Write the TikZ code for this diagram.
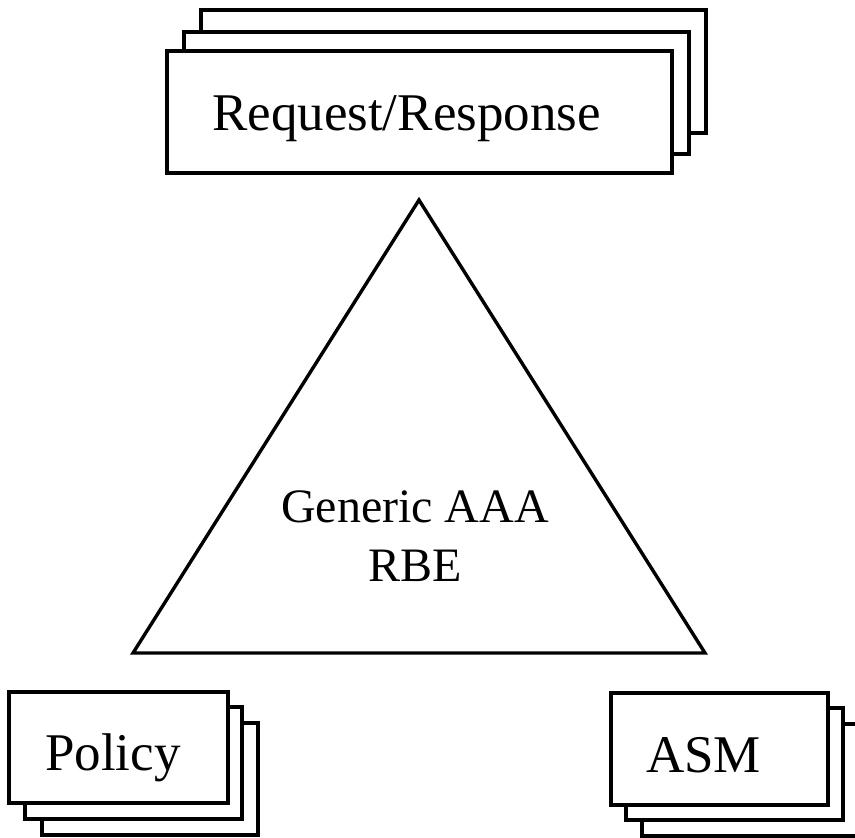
\documentclass[tikz,border=0pt]{standalone}
\usepackage{fontspec}
\setmainfont{Liberation Serif}
\begin{document}
\begin{tikzpicture}[x=1pt,y=-1pt,
  sheet/.style={draw=black,fill=white,line width=3.2pt},
  bigtxt/.style={font=\fontsize{53}{60}\selectfont,inner sep=0pt,anchor=base},
  midtxt/.style={font=\fontsize{48}{56}\selectfont,inner sep=0pt,anchor=base}]
\useasboundingbox (0,0) rectangle (855,838);
\clip (0,0) rectangle (855,838);
% Request/Response stack
\draw[sheet] (201,10) rectangle (706,133);
\draw[sheet] (184,32) rectangle (689,154);
\draw[sheet] (167,51) rectangle (672,173);
\node[bigtxt] (req) at (406.5,130) {Request/Response};
% triangle
\coordinate (apex) at (419,200);
\coordinate (bl) at (133,653);
\coordinate (br) at (705,653);
\draw[line width=3.4pt,line join=miter] (apex) -- (bl) -- (br) -- cycle;
\node[midtxt] (gen) at (415,522) {Generic AAA};
\node[midtxt] (rbe) at (415.5,581) {RBE};
% Policy stack
\draw[sheet] (42,723) rectangle (258,835);
\draw[sheet] (25,707) rectangle (242,819);
\draw[sheet] (9,692) rectangle (228,803);
\node[bigtxt] (pol) at (113,770) {Policy};
% ASM stack
\draw[sheet] (642,724) rectangle (859,836);
\draw[sheet] (626,708) rectangle (843,820);
\draw[sheet] (611,693) rectangle (828,805);
\node[bigtxt] (asm) at (703.5,772) {ASM};
\end{tikzpicture}
\end{document}
